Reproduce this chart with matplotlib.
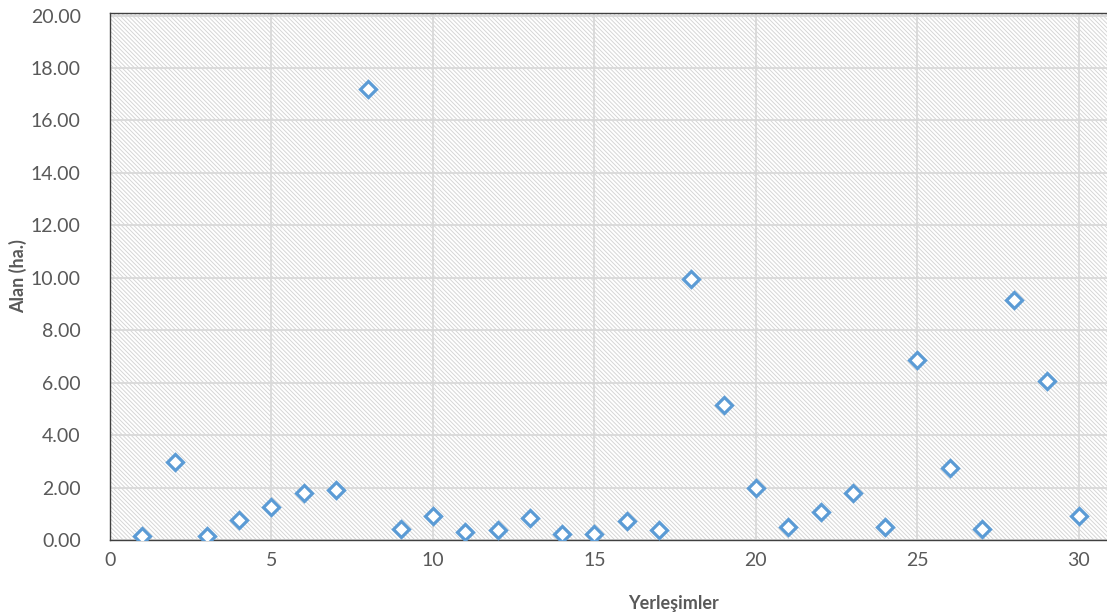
import matplotlib.pyplot as plt
from matplotlib.patches import Rectangle
from matplotlib.ticker import FormatStrFormatter, MultipleLocator

settlements = list(range(1, 31))
area_ha = [0.17, 2.96, 0.17, 0.78, 1.27, 1.80, 1.92, 17.20, 0.43, 0.91,
           0.31, 0.37, 0.85, 0.23, 0.23, 0.72, 0.37, 9.95, 5.14, 2.00,
           0.51, 1.06, 1.81, 0.51, 6.85, 2.74, 0.43, 9.14, 6.08, 0.93]

plt.rcParams['font.family'] = ['Lato', 'DejaVu Sans']
plt.rcParams['hatch.linewidth'] = 0.7

fig = plt.figure(figsize=(11.07, 6.15), dpi=100)
ax = fig.add_axes([110/1107, 1 - 540/615, 997/1107, 527/615])

# hatched plot background
bg = Rectangle((0, 0), 1, 1, transform=ax.transAxes, facecolor="white",
               edgecolor="#d6d6d6", hatch="\\" * 8, linewidth=0, zorder=0)
ax.add_patch(bg)

ax.plot(settlements, area_ha, linestyle="none", marker="D", markersize=8,
        markerfacecolor="white", markeredgecolor="#5B9BD5",
        markeredgewidth=2.3, zorder=3)

ax.set_xlim(0, 30.87)
ax.set_ylim(0, 20.1)
ax.xaxis.set_major_locator(MultipleLocator(5))
ax.yaxis.set_major_locator(MultipleLocator(2))
ax.yaxis.set_major_formatter(FormatStrFormatter("%.2f"))
ax.grid(True, color="#d9d9d9", linewidth=1.3, zorder=1)
ax.set_axisbelow(True)

ax.tick_params(length=0, labelsize=14, labelcolor="#595959")
ax.tick_params(axis="y", pad=21)
ax.tick_params(axis="x", pad=9)

for side in ["left", "bottom", "top"]:
    ax.spines[side].set_color("#404040")
    ax.spines[side].set_linewidth(1.0)
ax.spines["right"].set_visible(False)

ax.set_xlabel("Yerleşimler", fontsize=13, fontweight="bold", color="#595959")
ax.set_ylabel("Alan (ha.)", fontsize=13, fontweight="bold", color="#595959")
ax.xaxis.set_label_coords(0.565, -0.105)
ax.yaxis.set_label_coords(-0.083, 0.5)

fig.savefig("out.png", dpi=100)
